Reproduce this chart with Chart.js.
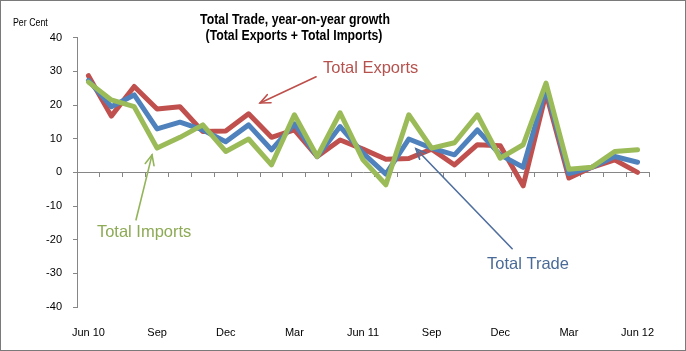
<!DOCTYPE html>
<html><head><meta charset="utf-8">
<script src="https://cdn.jsdelivr.net/npm/chart.js@4/dist/chart.umd.min.js"></script>
<style>html,body{margin:0;padding:0;background:#fff;overflow:hidden}canvas{display:block}</style>
</head><body>
<canvas id="c" width="686" height="351"></canvas>
<script>
// ---- data ----
const months = ["Jun 10","Jul","Aug","Sep","Oct","Nov","Dec","Jan","Feb","Mar","Apr","May",
                "Jun 11","Jul","Aug","Sep","Oct","Nov","Dec","Jan","Feb","Mar","Apr","May","Jun 12"];
const labelEvery = 3;
const totalExports = [28.7,16.7,25.5,18.8,19.5,12.1,12.3,17.4,10.4,12.6,4.7,9.6,
                      6.9,3.9,4.1,6.9,2.2,8.2,7.9,-4.0,23.5,-1.7,1.5,3.7,0.0];
const totalTrade   = [27.3,19.5,23.0,12.9,14.9,12.6,9.1,14.1,6.7,14.4,4.7,13.6,
                      5.7,-0.5,9.9,7.2,5.2,12.6,5.2,1.5,25.0,-0.4,1.5,4.7,3.0];
const totalImports = [26.8,21.5,19.5,7.2,10.4,14.1,6.2,9.9,2.2,17.1,4.7,17.7,
                      3.7,-3.7,17.1,7.2,8.8,17.1,4.2,8.2,26.5,0.9,1.5,6.2,6.7];
const yTicks = [-40,-30,-20,-10,0,10,20,30,40];
const titleLines = ["Total Trade, year-on-year growth","(Total Exports + Total Imports)"];
const unitLabel = "Per Cent";
const seriesNames = ["Total Exports","Total Trade","Total Imports"];

// ---- style ----
const SANS = "'Liberation Sans',Arial,sans-serif";
const colors = {exp:"#C0504D", trade:"#4F81BD", imp:"#9BBB59"};
const axisColor = "#868686";

// annotation anchors in data coordinates (category index, value)
const notes = [
  {text:seriesNames[0], color:"#B5524E", line:"#BE4F4B", at:[10.25,31.0], from:[9.95,28.4], to:[7.5,20.6]},
  {text:seriesNames[2], color:"#8DAA55", line:"#93B55A", at:[0.37,-17.95], from:[2.08,-14.1], to:[2.78,5.2]},
  {text:seriesNames[1], color:"#4A6A97", line:"#4F6F9E", at:[17.42,-27.4], from:[18.52,-22.7], to:[14.31,7.0]}
];

function narrowText(ctx, text, x, y, sx){
  ctx.save(); ctx.translate(x, y); ctx.scale(sx, 1); ctx.fillText(text, 0, 0); ctx.restore();
}

const decor = {
  id:'decor',
  afterDraw(chart){
    const ctx = chart.ctx, xs = chart.scales.x, ys = chart.scales.y;
    ctx.save();
    // title
    ctx.fillStyle = "#000";
    ctx.textAlign = "center"; ctx.textBaseline = "alphabetic";
    ctx.font = "bold 15px " + SANS;
    narrowText(ctx, titleLines[0], 295, 24, 0.82);
    narrowText(ctx, titleLines[1], 294, 39.5, 0.82);
    // unit
    ctx.textAlign = "left";
    ctx.font = "11px " + SANS;
    narrowText(ctx, unitLabel, 13, 26, 0.8);
    // annotations
    notes.forEach(n=>{
      const fx = xs.getPixelForValue(n.from[0]), fy = ys.getPixelForValue(n.from[1]);
      const tx = xs.getPixelForValue(n.to[0]),   ty = ys.getPixelForValue(n.to[1]);
      ctx.strokeStyle = n.line; ctx.lineWidth = 1.6; ctx.lineCap = "round";
      ctx.beginPath(); ctx.moveTo(fx,fy); ctx.lineTo(tx,ty); ctx.stroke();
      const ang = Math.atan2(ty-fy, tx-fx), L = 11, a = 0.42;
      ctx.beginPath();
      ctx.moveTo(tx - L*Math.cos(ang-a), ty - L*Math.sin(ang-a));
      ctx.lineTo(tx,ty);
      ctx.lineTo(tx - L*Math.cos(ang+a), ty - L*Math.sin(ang+a));
      ctx.stroke();
      ctx.fillStyle = n.color; ctx.font = "16.5px " + SANS;
      ctx.textAlign = "left"; ctx.textBaseline = "middle";
      ctx.fillText(n.text, xs.getPixelForValue(n.at[0]), ys.getPixelForValue(n.at[1]));
    });
    // frame
    ctx.strokeStyle = "#7A7A7A"; ctx.lineWidth = 1;
    ctx.strokeRect(0.5,0.5,685,350);
    ctx.restore();
  }
};

const ds = (label, data, color) => ({label, data, borderColor:color, backgroundColor:color,
  borderWidth:5, pointRadius:0, tension:0, fill:false, borderJoinStyle:'round', borderCapStyle:'round'});

new Chart(document.getElementById('c'), {
  type:'line',
  data:{labels:months, datasets:[
    ds(seriesNames[2], totalImports, colors.imp),
    ds(seriesNames[1], totalTrade, colors.trade),
    ds(seriesNames[0], totalExports, colors.exp)
  ]},
  options:{
    responsive:false, animation:false, devicePixelRatio:1,
    layout:{padding:{left:0,right:37,top:37.7,bottom:0}},
    plugins:{legend:{display:false}, tooltip:{enabled:false}, title:{display:false}},
    scales:{
      x:{type:'category', offset:true,
         grid:{display:false, drawTicks:false}, border:{display:false},
         ticks:{autoSkip:false, maxRotation:0, padding:19, color:"#000",
                font:{family:SANS, size:11},
                callback:(v,i)=> i % labelEvery === 0 ? months[i] : ''},
         afterFit:s=>{s.height=44;}},
      xZero:{type:'category', axis:'x', position:{y:0}, offset:true,
         grid:{display:true, offset:true, drawOnChartArea:false, drawTicks:true, tickLength:4, color:axisColor},
         border:{display:true, color:axisColor, width:1},
         ticks:{display:false, autoSkip:false}},
      y:{type:'linear', min:yTicks[0], max:yTicks[yTicks.length-1],
         afterBuildTicks:s=>{s.ticks = yTicks.map(v=>({value:v}));},
         grid:{drawOnChartArea:false, drawTicks:true, tickLength:4, color:axisColor},
         border:{display:true, color:axisColor, width:1},
         ticks:{padding:11, color:"#000", font:{family:SANS, size:11}},
         afterFit:s=>{s.width=77;}}
    }
  },
  plugins:[decor]
});
</script>
</body></html>
